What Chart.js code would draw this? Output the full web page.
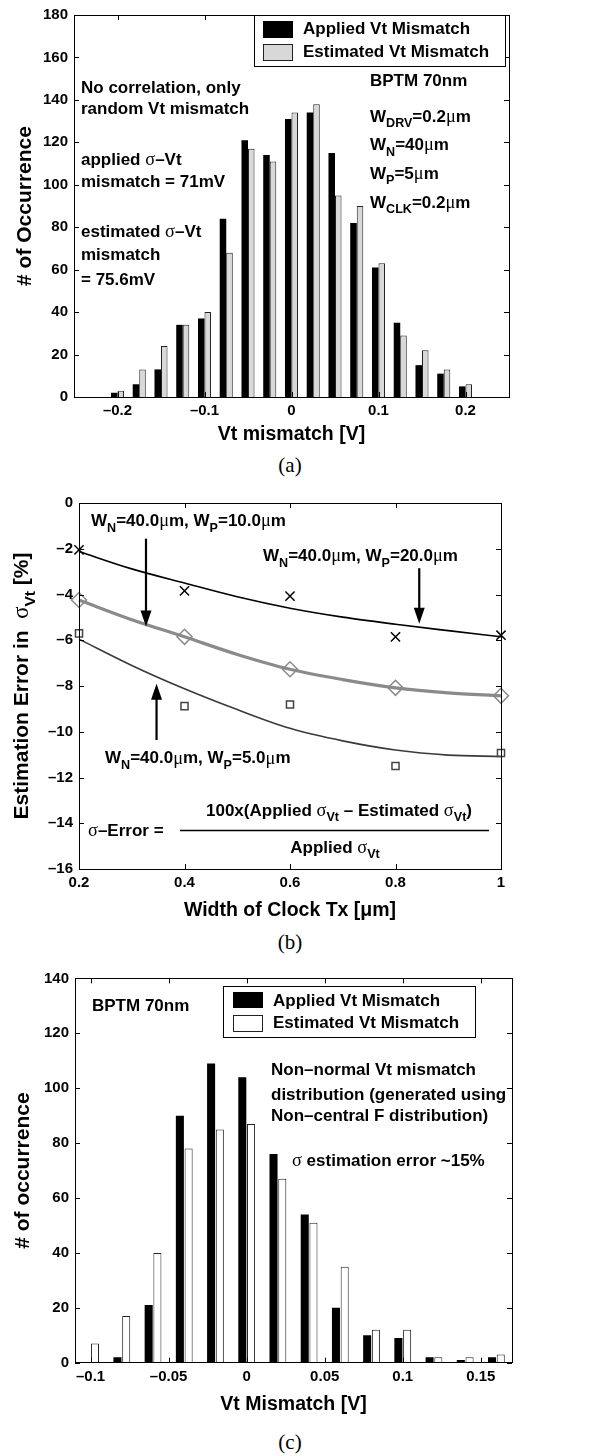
<!DOCTYPE html>
<html>
<head>
<meta charset="utf-8">
<script src="https://cdn.jsdelivr.net/npm/chart.js@4.4.1/dist/chart.umd.min.js"></script>
<style>
  body { margin: 0; background: #fff; width: 589px; height: 1456px; position: relative; overflow: hidden; }
  canvas { position: absolute; left: 0; }
  .cap { position: absolute; left: 240px; width: 100px; text-align: center; line-height: 24px;
         font: 21px 'Liberation Serif', 'Times New Roman', serif; color: #000; }
</style>
</head>
<body>
<canvas id="chartA" width="589" height="452" style="top:0"></canvas>
<div class="cap" style="top:453px">(a)</div>
<canvas id="chartB" width="589" height="450" style="top:480px"></canvas>
<div class="cap" style="top:930px">(b)</div>
<canvas id="chartC" width="589" height="466" style="top:960px"></canvas>
<div class="cap" style="top:1430px">(c)</div>

<script>
// (a) normal Vt mismatch histogram
const vtBinsA = [-0.2, -0.175, -0.15, -0.125, -0.1, -0.075, -0.05, -0.025, 0, 0.025, 0.05, 0.075, 0.1, 0.125, 0.15, 0.175, 0.2];
const appliedA = [2, 6, 13, 34, 37, 84, 121, 114, 131, 134, 115, 82, 61, 35, 15, 11, 5];
const estimatedA = [3, 13, 24, 34, 40, 68, 117, 111, 134, 138, 95, 90, 63, 29, 22, 13, 6];
const xTicksA = [-0.2, -0.1, 0, 0.1, 0.2];
const yTicksA = [0, 20, 40, 60, 80, 100, 120, 140, 160, 180];

// (b) estimation error vs clock width
const clockW = [0.2, 0.4, 0.6, 0.8, 1];
const errWp20 = [-2.05, -3.84, -4.07, -5.85, -5.78];
const errWp10 = [-4.24, -5.85, -7.27, -8.08, -8.43];
const errWp5 = [-5.7, -8.88, -8.81, -11.5, -10.93];
const fitW = [0.2, 0.3, 0.4, 0.5, 0.6, 0.7, 0.8, 0.9, 1];
const fitWp20 = [-2.12, -2.88, -3.5, -4.1, -4.6, -4.99, -5.3, -5.58, -5.85];
const fitWp10 = [-4.24, -5.1, -5.85, -6.62, -7.27, -7.72, -8.08, -8.3, -8.43];
const fitWp5 = [-5.95, -7.1, -8.12, -9.03, -9.85, -10.4, -10.8, -11.02, -11.08];
const xTicksB = [0.2, 0.4, 0.6, 0.8, 1];
const yTicksB = [0, -2, -4, -6, -8, -10, -12, -14, -16];

// (c) non-normal Vt mismatch histogram
const vtBinsC = [-0.1, -0.08, -0.06, -0.04, -0.02, 0, 0.02, 0.04, 0.06, 0.08, 0.1, 0.12, 0.14, 0.16];
const appliedC = [0, 2, 21, 90, 109, 104, 76, 54, 20, 10, 9, 2, 1, 2];
const estimatedC = [7, 17, 40, 78, 85, 87, 67, 51, 35, 12, 12, 2, 2, 3];
const xTicksC = [-0.1, -0.05, 0, 0.05, 0.1, 0.15];
const yTicksC = [0, 20, 40, 60, 80, 100, 120, 140];

const FAM = "'Liberation Sans', Arial, Helvetica, sans-serif";
Chart.defaults.font.family = FAM;
Chart.defaults.font.weight = 'bold';
Chart.defaults.color = '#000';
Chart.defaults.animation = false;
Chart.defaults.plugins.legend.display = false;
Chart.defaults.plugins.tooltip.enabled = false;

function fmtTick(v) {
  const n = +(+v).toFixed(3);
  return (n < 0 ? '\u2013' : '') + String(Math.abs(n));
}

// linear axis with fixed size and fixed tick list
function axis({ min, max, ticks, size, horiz, title, titlePad }) {
  return {
    type: 'linear',
    min, max,
    offset: false,
    grid: { display: false, drawTicks: false, offset: false },
    border: { display: false },
    ticks: { autoSkip: false, maxRotation: 0, padding: horiz ? 5 : 6, font: { size: 15 }, callback: fmtTick },
    afterBuildTicks: s => { s.ticks = ticks.map(v => ({ value: v })); },
    afterFit: s => { if (horiz) s.height = size; else s.width = size; },
    title: title
      ? { display: true, text: title, font: { size: horiz ? 19.5 : 21, weight: 'bold' },
          padding: horiz ? { top: 0, bottom: titlePad } : { top: titlePad, bottom: 0 } }
      : { display: false },
  };
}

// box around plot + inward tick marks, like the original
const framePlugin = {
  id: 'frame',
  afterDatasetsDraw(chart) {
    const { ctx, chartArea: a, scales: { x, y } } = chart;
    ctx.save();
    ctx.strokeStyle = '#000';
    ctx.lineWidth = 1;
    ctx.beginPath();
    x.ticks.forEach(t => {
      const px = Math.round(x.getPixelForValue(t.value)) + 0.5;
      ctx.moveTo(px, a.bottom); ctx.lineTo(px, a.bottom - 5);
      ctx.moveTo(px, a.top); ctx.lineTo(px, a.top + 5);
    });
    y.ticks.forEach(t => {
      const py = Math.round(y.getPixelForValue(t.value)) + 0.5;
      ctx.moveTo(a.left, py); ctx.lineTo(a.left + 5, py);
      ctx.moveTo(a.right, py); ctx.lineTo(a.right - 5, py);
    });
    ctx.stroke();
    ctx.strokeRect(Math.round(a.left) + 0.5, Math.round(a.top) + 0.5, Math.round(a.right - a.left), Math.round(a.bottom - a.top));
    ctx.restore();
  },
};

// text with _{sub} parts, greek letters drawn in a plain serif face
function richText(ctx, str, x, y, opt = {}) {
  const size = opt.size || 17;
  const segs = [];
  const re = /_\{([^}]*)\}/g;
  let last = 0, m;
  while ((m = re.exec(str))) {
    if (m.index > last) segs.push({ t: str.slice(last, m.index), sub: false });
    segs.push({ t: m[1], sub: true });
    last = re.lastIndex;
  }
  if (last < str.length) segs.push({ t: str.slice(last), sub: false });
  const parts = [];
  segs.forEach(s => s.t.split(/([σμ])/).forEach(p => {
    if (p) parts.push({ t: p, sub: s.sub, greek: /[σμ]/.test(p) });
  }));
  const fontOf = p => {
    const sz = p.sub ? size * 0.74 : size;
    return p.greek ? `normal ${sz * 1.08}px 'Liberation Serif', serif` : `bold ${sz}px ${FAM}`;
  };
  let w = 0;
  parts.forEach(p => { ctx.font = fontOf(p); p.w = ctx.measureText(p.t).width; w += p.w; });
  ctx.save();
  ctx.translate(x, y);
  if (opt.rotate) ctx.rotate(opt.rotate);
  let cx = opt.align === 'center' ? -w / 2 : 0;
  ctx.textBaseline = 'middle';
  ctx.textAlign = 'left';
  ctx.fillStyle = '#000';
  parts.forEach(p => {
    ctx.font = fontOf(p);
    ctx.fillText(p.t, cx, p.sub ? size * 0.4 : 0);
    cx += p.w;
  });
  ctx.restore();
  return w;
}

function drawLegend(chart, box, rows) {
  const ctx = chart.ctx;
  ctx.save();
  ctx.fillStyle = '#fff';
  ctx.fillRect(box.x, box.y, box.w, box.h);
  ctx.strokeStyle = '#000';
  ctx.lineWidth = 1;
  ctx.strokeRect(box.x + 0.5, box.y + 0.5, box.w, box.h);
  rows.forEach((r, i) => {
    const ds = chart.data.datasets[i];
    ctx.fillStyle = ds.backgroundColor;
    ctx.fillRect(r.sx, r.sy, 30, r.sh);
    if (ds.borderWidth) {
      ctx.strokeStyle = ds.borderColor;
      ctx.strokeRect(r.sx + 0.5, r.sy + 0.5, 29, r.sh - 1);
    }
    richText(ctx, ds.label, r.tx, r.ty, { size: 17 });
  });
  ctx.restore();
}

function arrow(ctx, x, y0, y1) {
  const dir = y1 > y0 ? 1 : -1;
  ctx.save();
  ctx.strokeStyle = '#000';
  ctx.fillStyle = '#000';
  ctx.lineWidth = 2.2;
  ctx.beginPath();
  ctx.moveTo(x, y0);
  ctx.lineTo(x, y1 - dir * 14);
  ctx.stroke();
  ctx.beginPath();
  ctx.moveTo(x, y1);
  ctx.lineTo(x - 5.5, y1 - dir * 16);
  ctx.lineTo(x + 5.5, y1 - dir * 16);
  ctx.closePath();
  ctx.fill();
  ctx.restore();
}

function histDatasets(bins, applied, estimated, estFill, catPct, barPct) {
  return [
    { label: 'Applied Vt Mismatch', data: bins.map((x, i) => ({ x, y: applied[i] })),
      backgroundColor: '#000', borderWidth: 0, categoryPercentage: catPct, barPercentage: barPct },
    { label: 'Estimated Vt Mismatch', data: bins.map((x, i) => ({ x, y: estimated[i] })),
      backgroundColor: estFill, borderColor: '#222', borderWidth: 1, categoryPercentage: catPct, barPercentage: barPct },
  ];
}

window.addEventListener('DOMContentLoaded', () => {
  // Panel (a)
  new Chart(document.getElementById('chartA'), {
    type: 'bar',
    data: { datasets: histDatasets(vtBinsA, appliedA, estimatedA, '#d8d8d8', 0.6, 1) },
    options: {
      responsive: false,
      layout: { padding: { top: 10, right: 80, left: 0, bottom: 0 } },
      scales: {
        x: axis({ min: -0.25, max: 0.25, ticks: xTicksA, size: 55, horiz: true, title: 'Vt mismatch [V]', titlePad: 5.6 }),
        y: axis({ min: 0, max: 180, ticks: yTicksA, size: 74, horiz: false, title: '# of Occurrence', titlePad: 12.4 }),
      },
    },
    plugins: [framePlugin, {
      id: 'notesA',
      afterDraw(chart) {
        const ctx = chart.ctx;
        drawLegend(chart, { x: 254, y: 15, w: 251, h: 51 }, [
          { sx: 263, sy: 21, sh: 17, tx: 303, ty: 29.5 },
          { sx: 263, sy: 44, sh: 17, tx: 303, ty: 52.5 },
        ]);
        richText(ctx, 'No correlation, only', 81, 88.7);
        richText(ctx, 'random Vt mismatch', 81, 109.7);
        richText(ctx, 'applied σ–Vt', 81, 160);
        richText(ctx, 'mismatch = 71mV', 81, 182);
        richText(ctx, 'estimated σ–Vt', 81, 232);
        richText(ctx, 'mismatch', 81, 255);
        richText(ctx, '= 75.6mV', 81, 280);
        richText(ctx, 'BPTM 70nm', 370, 81);
        richText(ctx, 'W_{DRV}=0.2μm', 370, 117);
        richText(ctx, 'W_{N}=40μm', 370, 145.5);
        richText(ctx, 'W_{P}=5μm', 370, 174);
        richText(ctx, 'W_{CLK}=0.2μm', 370, 203);
      },
    }],
  });

  // Panel (b)
  const pts = (xs, ys) => xs.map((x, i) => ({ x, y: ys[i] }));
  const marker = (data, style, r, color) => ({
    data, showLine: false, pointStyle: style, pointRadius: r, pointBorderColor: color,
    pointBackgroundColor: 'rgba(0,0,0,0)', pointBorderWidth: 1.5, clip: false,
  });
  const fitLine = (data, color, w) => ({
    data, showLine: true, pointRadius: 0, borderColor: color, borderWidth: w,
    cubicInterpolationMode: 'monotone', clip: false,
  });
  new Chart(document.getElementById('chartB'), {
    type: 'scatter',
    data: {
      datasets: [
        marker(pts(clockW, errWp20), 'crossRot', 6.5, '#000'),
        marker(pts(clockW, errWp10), 'rectRot', 7.5, '#8a8a8a'),
        marker(pts(clockW, errWp5), 'rect', 5, '#444'),
        fitLine(pts(fitW, fitWp20), '#000', 1.6),
        fitLine(pts(fitW, fitWp10), '#8a8a8a', 3.2),
        fitLine(pts(fitW, fitWp5), '#3a3a3a', 1.6),
      ],
    },
    options: {
      responsive: false,
      layout: { padding: { top: 23, right: 88, left: 0, bottom: 0 } },
      scales: {
        x: axis({ min: 0.2, max: 1, ticks: xTicksB, size: 61, horiz: true, title: 'Width of Clock Tx [μm]', titlePad: 7.6 }),
        y: axis({ min: -16, max: 0, ticks: yTicksB, size: 79, horiz: false }),
      },
    },
    plugins: [framePlugin, {
      id: 'notesB',
      afterDraw(chart) {
        const { ctx, chartArea: a, scales: { x, y } } = chart;
        richText(ctx, 'Estimation Error in  σ_{Vt} [%]', 22, (a.top + a.bottom) / 2, { size: 21, align: 'center', rotate: -Math.PI / 2 });
        richText(ctx, 'W_{N}=40.0μm, W_{P}=10.0μm', 91, 41.5);
        richText(ctx, 'W_{N}=40.0μm, W_{P}=20.0μm', 263, 76.3);
        richText(ctx, 'W_{N}=40.0μm, W_{P}=5.0μm', 105, 278.7);
        arrow(ctx, x.getPixelForValue(0.327), y.getPixelForValue(-1.56), y.getPixelForValue(-5.4));
        arrow(ctx, x.getPixelForValue(0.845), y.getPixelForValue(-2.85), y.getPixelForValue(-5.28));
        arrow(ctx, x.getPixelForValue(0.347), y.getPixelForValue(-10.36), y.getPixelForValue(-7.9));
        richText(ctx, 'σ–Error =', 88, 351);
        ctx.save();
        ctx.strokeStyle = '#000';
        ctx.lineWidth = 1.5;
        ctx.beginPath();
        ctx.moveTo(180, 350.5);
        ctx.lineTo(489, 350.5);
        ctx.stroke();
        ctx.restore();
        richText(ctx, '100x(Applied σ_{Vt} – Estimated σ_{Vt})', 339, 331, { align: 'center' });
        richText(ctx, 'Applied σ_{Vt}', 335, 368, { align: 'center' });
      },
    }],
  });

  // Panel (c)
  new Chart(document.getElementById('chartC'), {
    type: 'bar',
    data: { datasets: histDatasets(vtBinsC, appliedC, estimatedC, '#fff', 0.56, 0.92) },
    options: {
      responsive: false,
      layout: { padding: { top: 18.4, right: 77, left: 0, bottom: 0 } },
      scales: {
        x: axis({ min: -0.11, max: 0.17, ticks: xTicksC, size: 63.3, horiz: true, title: 'Vt Mismatch [V]', titlePad: 9.6 }),
        y: axis({ min: 0, max: 140, ticks: yTicksC, size: 75, horiz: false, title: '# of occurrence', titlePad: 10.9 }),
      },
    },
    plugins: [framePlugin, {
      id: 'notesC',
      afterDraw(chart) {
        const ctx = chart.ctx;
        drawLegend(chart, { x: 223, y: 26, w: 252, h: 51 }, [
          { sx: 233, sy: 32, sh: 16, tx: 273, ty: 41 },
          { sx: 233, sy: 55, sh: 17, tx: 273, ty: 63 },
        ]);
        richText(ctx, 'BPTM 70nm', 92, 46.7);
        richText(ctx, 'Non–normal Vt mismatch', 271, 110);
        richText(ctx, 'distribution (generated using', 271, 135);
        richText(ctx, 'Non–central F distribution)', 271, 156.6);
        richText(ctx, 'σ estimation error ~15%', 292, 201.6);
      },
    }],
  });
});
</script>
</body>
</html>
